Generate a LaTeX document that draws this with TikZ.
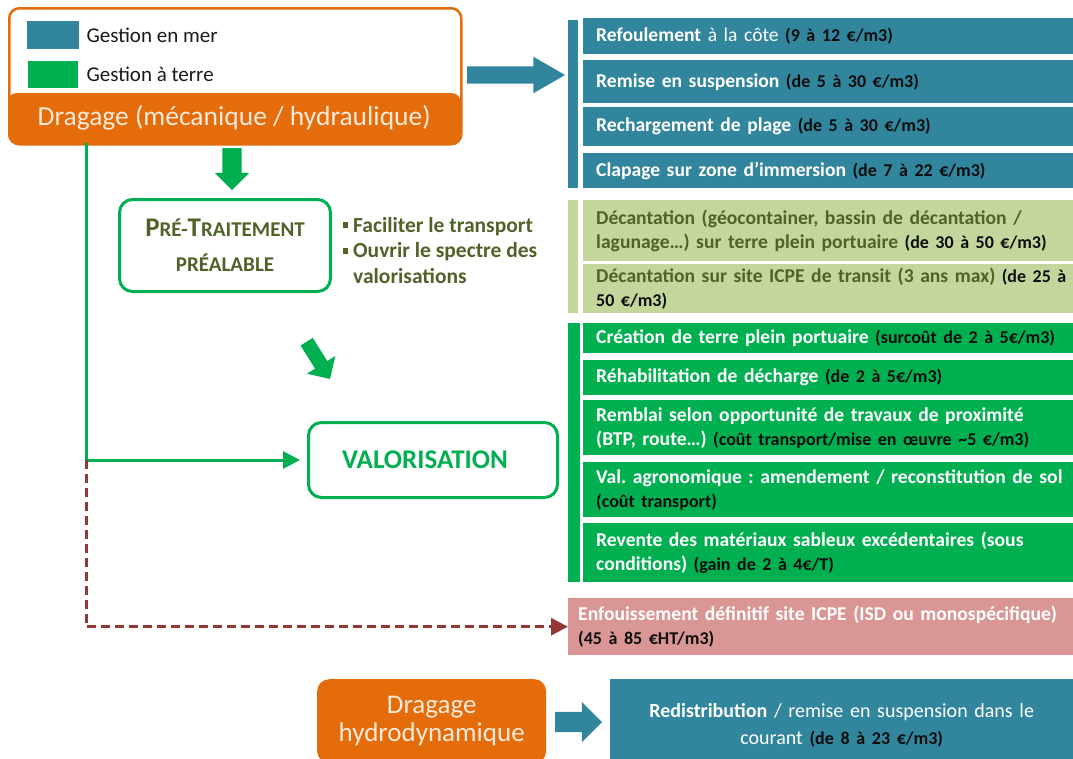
\documentclass[tikz,border=0pt]{standalone}
\usepackage{fontspec}
\setmainfont{Carlito}
\usetikzlibrary{positioning,arrows.meta,shapes.arrows}

\definecolor{mer}{HTML}{31859C}
\definecolor{terre}{HTML}{00B050}
\definecolor{transit}{HTML}{C3D69B}
\definecolor{olivetxt}{HTML}{4F6228}
\definecolor{drague}{HTML}{E46C0A}
\definecolor{creme}{HTML}{FDEADA}
\definecolor{enfouiss}{HTML}{D99694}
\definecolor{bordeaux}{HTML}{953735}

\newcommand\prix[1]{{\fontsize{18}{24}\selectfont\color{black!95}#1}}
\newcommand\puce{{\color{olivetxt}\rule[4pt]{5pt}{6pt}}\hspace{5pt}}
\frenchspacing

\begin{document}
\begin{tikzpicture}[
    x=1pt, y=-1pt,
    rang/.style={
        anchor=north west, text width=476pt, inner xsep=13pt, inner ysep=0pt,
        align=left, font=\fontsize{19.6}{24}\selectfont\bfseries},
    rangmer/.style={rang, fill=mer, text=white},
    rangtransit/.style={rang, fill=transit, text=olivetxt},
    rangterre/.style={rang, fill=terre, text=white},
    etape/.style={
        anchor=north west, draw=terre, line width=3pt, rounded corners=13pt,
        align=center, font=\bfseries},
    swatch/.style={anchor=north west, inner sep=0pt},
    legtxt/.style={inner sep=0pt, font=\fontsize{21}{24}\selectfont, text=black!90},
    blocfleche/.style={single arrow, inner xsep=0pt, outer sep=0pt, anchor=tip},
    fil/.style={draw=terre, line width=3pt, -{Triangle[length=17pt,width=17pt]}},
    tirets/.style={draw=bordeaux, line width=3pt, dash pattern=on 9pt off 5pt,
                   -{Triangle[length=17pt,width=17pt]}},
]
\useasboundingbox (0,0) rectangle (1073,758);

% ---- legend + dredging (top left) ----
\node[anchor=north west, draw=drague, line width=2.5pt, rounded corners=10pt,
      minimum width=452pt, minimum height=136pt] (legende) at (8,7) {};
\node[swatch, fill=mer, minimum width=52pt, minimum height=28pt] (mer) at (27,21) {};
\node[swatch, fill=terre, minimum width=50pt, minimum height=27pt] (terre) at (28,61) {};
\node[legtxt, right=7pt of mer] {Gestion en mer};
\node[legtxt, right=8pt of terre] {Gestion à terre};
\node[anchor=north west, fill=drague, rounded corners=8pt, text=creme,
      minimum width=452pt, minimum height=50pt,
      font=\fontsize{27.5}{30}\selectfont] (dragage) at (8,93)
    {Dragage (mécanique / hydraulique)};

% ---- gestion en mer ----
\node[rangmer, minimum height=36pt] (refoul) at (583,18)
    {Refoulement {\mdseries à la côte} \prix{(9 à 12 €/m3)}};
\node[rangmer, minimum height=43pt] (remise) at (583,60)
    {Remise en suspension \prix{(de 5 à 30 €/m3)}};
\node[rangmer, minimum height=39pt] (recharge) at (583,107)
    {Rechargement de plage \prix{(de 5 à 30 €/m3)}};
\node[rangmer, minimum height=35pt] (clapage) at (583,153)
    {Clapage sur zone d’immersion \prix{(de 7 à 22 €/m3)}};
\fill[mer] ([xshift=-15pt,yshift=-2pt]refoul.north west) rectangle ([xshift=-5pt]clapage.south west);
\node[blocfleche, fill=mer, minimum height=98pt, inner ysep=8.5pt,
      single arrow head extend=9.5pt, single arrow tip angle=60] (versmer) at (565,75) {};

% ---- transit / decantation ----
\node[rangtransit, minimum height=61pt] (decant) at (583,200)
    {Décantation (géocontainer, bassin de décantation /\\
     lagunage…) sur terre plein portuaire \prix{(de 30 à 50 €/m3)}};
\node[rangtransit, minimum height=49pt] (icpe) at (583,264)
    {Décantation sur site ICPE de transit (3 ans max) \prix{(de 25 à}\\ \prix{50 €/m3)}};
\fill[transit] ([xshift=-15pt]decant.north west) rectangle ([xshift=-5pt]icpe.south west);

% ---- pre-traitement ----
\node[blocfleche, fill=terre, minimum height=42pt, inner ysep=9.5pt,
      single arrow head extend=7.5pt, rotate=-90] (versprt) at (232,190) {};
\node[etape, minimum width=211pt, minimum height=92pt, text=olivetxt,
      font=\fontsize{21}{35}\selectfont\bfseries] (pretrait) at (118,198)
    {{\fontsize{27}{35}\selectfont P}RÉ-{\fontsize{27}{35}\selectfont T}RAITEMENT\\ PRÉALABLE};
\node[anchor=north west, align=left, inner sep=0pt, text=olivetxt,
      font=\fontsize{21.5}{25.5}\selectfont\bfseries] (objectifs) at (343,217)
    {\puce Faciliter le transport\\ \puce Ouvrir le spectre des\\ \hphantom{\puce}valorisations};
\node[blocfleche, fill=terre, minimum height=44pt, inner ysep=7pt,
      single arrow head extend=9.5pt, rotate=-58] (versvalo) at (330,379) {};

% ---- valorisation ----
\node[etape, minimum width=249pt, minimum height=75pt, text=terre,
      font=\fontsize{27}{30}\selectfont\bfseries] (valo) at (307,421)
    {VALORISATION\hspace*{16pt}};
\node[rangterre, minimum height=30pt] (creation) at (583,323)
    {Création de terre plein portuaire \prix{(surcoût de 2 à 5€/m3)}};
\node[rangterre, minimum height=35pt] (rehab) at (583,360)
    {Réhabilitation de décharge \prix{(de 2 à 5€/m3)}};
\node[rangterre, minimum height=55pt] (remblai) at (583,400)
    {Remblai selon opportunité de travaux de proximité\\
     (BTP, route…) \prix{(coût transport/mise en œuvre \textasciitilde5 €/m3)}};
\node[rangterre, minimum height=55pt] (agro) at (583,462)
    {Val. agronomique : amendement / reconstitution de sol\\ \prix{(coût transport)}};
\node[rangterre, minimum height=59pt] (revente) at (583,523)
    {Revente des matériaux sableux excédentaires (sous\\
     conditions) \prix{(gain de 2 à 4€/T)}};
\fill[terre] ([xshift=-15pt]creation.north west) rectangle ([xshift=-3pt]revente.south west);

% ---- enfouissement ----
\node[rang, fill=enfouiss, text=white, inner xsep=10pt, text width=490pt,
      minimum height=57pt] (enfouis) at (568,598)
    {Enfouissement définitif site ICPE (ISD ou monospécifique)\\ \prix{(45 à 85 €HT/m3)}};

% ---- links ----
\coordinate (tronc) at (86,143);
\draw[fil, shorten >=7pt] (tronc) |- (valo.west);
\draw[tirets] (tronc |- valo.west) |- (enfouis.west);

% ---- dragage hydrodynamique ----
\node[anchor=north west, fill=drague, rounded corners=12pt, text=creme, align=center,
      minimum width=229pt, minimum height=84pt,
      font=\fontsize{27}{28}\selectfont] (hydro) at (317,679)
    {Dragage\\ hydrodynamique};
\node[anchor=north west, fill=mer, text=white, align=center, text width=420pt,
      minimum width=463pt, minimum height=92pt,
      font=\fontsize{20}{27}\selectfont] (redistrib) at (610,679)
    {\textbf{Redistribution} / remise en suspension dans le\\ courant \prix{\textbf{(de 8 à 23 €/m3)}}};
\node[blocfleche, fill=mer, minimum height=47pt, inner ysep=10pt,
      single arrow head extend=10pt] (versredis) at (602,722) {};

\end{tikzpicture}
\end{document}
